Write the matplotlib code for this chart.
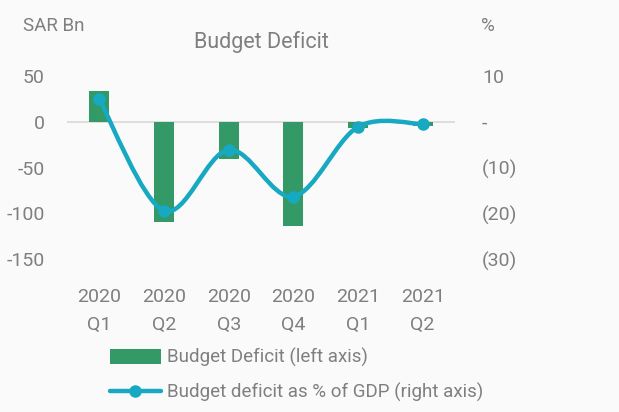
import numpy as np
import matplotlib
matplotlib.use("Agg")
import matplotlib.pyplot as plt
from matplotlib.path import Path
from matplotlib.patches import PathPatch
from matplotlib.lines import Line2D
from matplotlib.patches import Patch
from matplotlib.ticker import FuncFormatter

# data
quarters = ["2020\nQ1", "2020\nQ2", "2020\nQ3", "2020\nQ4", "2021\nQ1", "2021\nQ2"]
deficit_bn = [33.5, -109, -40.5, -114, -6.5, -4.5]
deficit_pct_gdp = [4.9, -19.4, -6.1, -16.3, -1.1, -0.5]

GREEN = "#339966"
TEAL = "#17A9C1"
GREY = "#7f7f7f"
BG = "#fafafa"

plt.rcParams["font.family"] = ["Roboto", "DejaVu Sans"]
plt.rcParams["axes.unicode_minus"] = False

fig = plt.figure(figsize=(6.19, 4.12), dpi=100, facecolor=BG)
ax = fig.add_axes([67 / 619, 1 - 259.3 / 412, 388 / 619, 183.3 / 412])
ax.set_facecolor(BG)
ax2 = ax.twinx()

x = np.arange(len(quarters))
ax.bar(x, deficit_bn, width=0.31, color=GREEN, zorder=2)
ax.axhline(0, color="#d9d9d9", lw=1.2, zorder=1)

ax.set_xlim(-0.5, len(quarters) - 0.5)
ax.set_ylim(-150, 50)
ax.set_yticks([50, 0, -50, -100, -150])
ax2.set_ylim(-30, 10)
ax2.set_yticks([10, 0, -10, -20, -30])


def pct_fmt(v, pos):
    if abs(v) < 1e-9:
        return "-"
    if v < 0:
        return f"({abs(v):.0f})"
    return f"{v:.0f}"


ax2.yaxis.set_major_formatter(FuncFormatter(pct_fmt))

ax.set_xticks(x)
ax.set_xticklabels(quarters, linespacing=1.7)

for a in (ax, ax2):
    for s in a.spines.values():
        s.set_visible(False)
    a.tick_params(length=0, colors=GREY, labelsize=14)
ax.tick_params(axis="y", pad=16)
ax.tick_params(axis="x", pad=20.5)
ax2.tick_params(axis="y", pad=19.5)
for lbl in ax2.get_yticklabels():
    lbl.set_horizontalalignment("left")

# smoothed line (Catmull-Rom style bezier, like Excel's smoothed line)
px = np.array(x, dtype=float)
py = np.array(deficit_pct_gdp, dtype=float)
verts = [(px[0], py[0])]
codes = [Path.MOVETO]
n = len(px)
for i in range(n - 1):
    p0 = np.array([px[max(i - 1, 0)], py[max(i - 1, 0)]])
    p1 = np.array([px[i], py[i]])
    p2 = np.array([px[i + 1], py[i + 1]])
    p3 = np.array([px[min(i + 2, n - 1)], py[min(i + 2, n - 1)]])
    c1 = p1 + (p2 - p0) / 6
    c2 = p2 - (p3 - p1) / 6
    verts += [tuple(c1), tuple(c2), tuple(p2)]
    codes += [Path.CURVE4] * 3
ax2.add_patch(PathPatch(Path(verts, codes), facecolor="none", edgecolor=TEAL,
                        lw=3.2, capstyle="round", joinstyle="round", zorder=3))
ax2.plot(px, py, linestyle="none", marker="o", markersize=8, color=TEAL, zorder=4)

fig.text(261 / 619, 1 - 42 / 412, "Budget Deficit", ha="center", va="center",
         fontsize=15.5, color=GREY)
fig.text(23 / 619, 1 - 26 / 412, "SAR Bn", ha="left", va="center",
         fontsize=13.5, color=GREY)
fig.text(481 / 619, 1 - 26 / 412, "%", ha="left", va="center",
         fontsize=13.5, color=GREY)

handles = [
    Patch(facecolor=GREEN, edgecolor="none"),
    Line2D([0], [0], color=TEAL, lw=3.2, marker="o", markersize=8,
           solid_capstyle="round"),
]
labels = ["Budget Deficit (left axis)", "Budget deficit as % of GDP (right axis)"]
leg = fig.legend(handles, labels, loc="upper left",
                 bbox_to_anchor=(110 / 619, 1 - 348 / 412), frameon=False,
                 borderpad=0, borderaxespad=0, handlelength=2.7, handleheight=0.8,
                 handletextpad=0.35, labelspacing=0.85, fontsize=13.5)
for t in leg.get_texts():
    t.set_color(GREY)

fig.savefig("out.png", dpi=100, facecolor=BG)
